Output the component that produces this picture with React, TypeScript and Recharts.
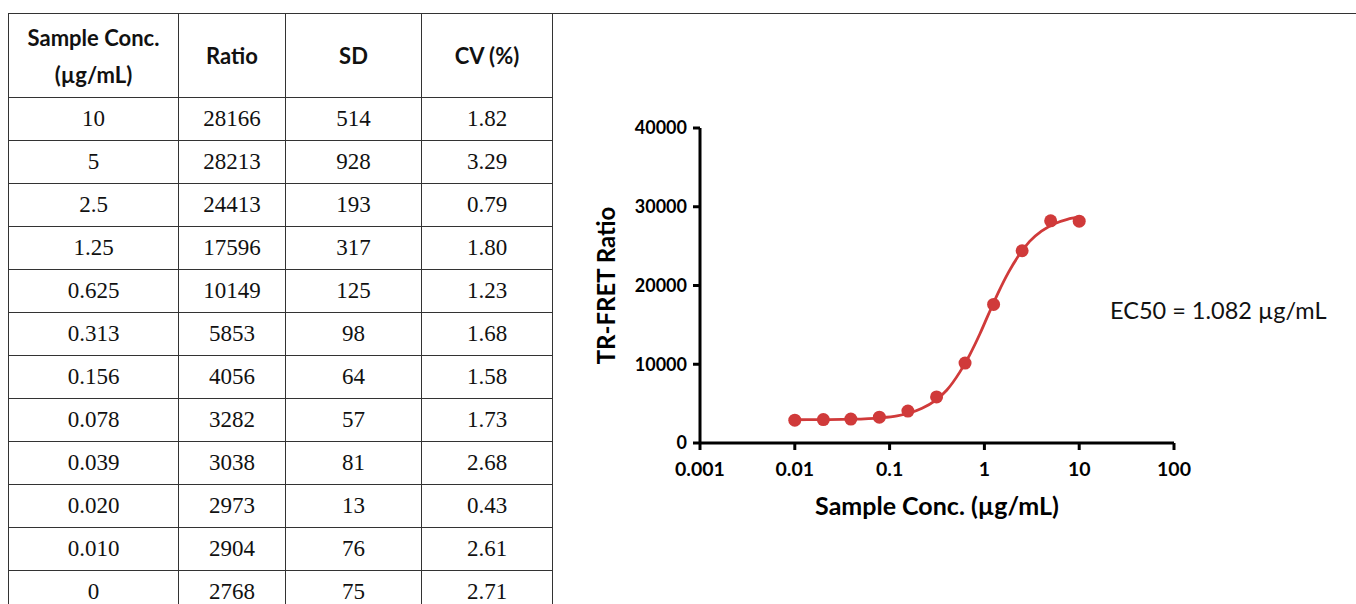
import {
    ComposedChart,
    Line,
    Scatter,
    XAxis,
    YAxis,
} from 'recharts'

// table data
const concLabels = ['10', '5', '2.5', '1.25', '0.625', '0.313', '0.156', '0.078', '0.039', '0.020', '0.010', '0']
const concValues = [10, 5, 2.5, 1.25, 0.625, 0.313, 0.156, 0.078, 0.039, 0.02, 0.01, 0]
const ratios = [28166, 28213, 24413, 17596, 10149, 5853, 4056, 3282, 3038, 2973, 2904, 2768]
const sds = [514, 928, 193, 317, 125, 98, 64, 57, 81, 13, 76, 75]
const cvs = ['1.82', '3.29', '0.79', '1.80', '1.23', '1.68', '1.58', '1.73', '2.68', '0.43', '2.61', '2.71']

// fitted curve
const curveX = [0.01, 0.02, 0.04, 0.08, 0.12, 0.16, 0.22, 0.3, 0.4, 0.55, 0.7, 0.9, 1.1, 1.4, 1.8, 2.3, 3, 4, 5.5, 7.5, 10]
const curveY = [2950, 2970, 3020, 3200, 3450, 3780, 4400, 5350, 6700, 9000, 11200, 13900, 16300, 19100, 21700, 23800, 25600, 26900, 27850, 28400, 28700]

const xTicks = [0.001, 0.01, 0.1, 1, 10, 100]
const yTicks = [0, 10000, 20000, 30000, 40000]

const RED = '#d03a3a'
const SANS = 'Lato, "Open Sans", sans-serif'

const points = concValues
    .map((c, i) => ({ conc: c, ratio: ratios[i] }))
    .filter((p) => p.conc > 0)
const curve = curveX.map((c, i) => ({ conc: c, fit: curveY[i] }))

const cellBorder = '1px solid #333'

function DataTable() {
    const th = {
        border: cellBorder,
        fontFamily: SANS,
        fontWeight: 700,
        fontSize: 22,
        lineHeight: '37px',
        padding: 0,
        textAlign: 'center' as const,
    }
    const td = {
        border: cellBorder,
        fontFamily: '"Liberation Serif", "Times New Roman", serif',
        fontSize: 23,
        padding: 0,
        textAlign: 'center' as const,
        height: 42,
    }
    return (
        <table
            style={{
                position: 'absolute',
                left: 8,
                top: 13,
                width: 544,
                borderCollapse: 'collapse',
                tableLayout: 'fixed',
                color: '#111',
            }}
        >
            <colgroup>
                <col style={{ width: 170 }} />
                <col style={{ width: 107 }} />
                <col style={{ width: 136 }} />
                <col style={{ width: 131 }} />
            </colgroup>
            <thead>
                <tr style={{ height: 84 }}>
                    <th style={th}>
                        Sample Conc.
                        <br />
                        (µg/mL)
                    </th>
                    <th style={th}>Ratio</th>
                    <th style={th}>SD</th>
                    <th style={th}>CV (%)</th>
                </tr>
            </thead>
            <tbody>
                {concLabels.map((label, i) => (
                    <tr key={i}>
                        <td style={td}>{label}</td>
                        <td style={td}>{ratios[i]}</td>
                        <td style={td}>{sds[i]}</td>
                        <td style={td}>{cvs[i]}</td>
                    </tr>
                ))}
            </tbody>
        </table>
    )
}

export default function App() {
    const yTickStyle = { fontFamily: SANS, fontWeight: 700, fontSize: 18, fill: '#000' }
    const xTickStyle = { fontFamily: SANS, fontWeight: 700, fontSize: 19.5, fill: '#000' }
    return (
        <div
            style={{
                position: 'fixed',
                left: 0,
                top: 0,
                width: 1356,
                height: 604,
                overflow: 'hidden',
                background: '#fff',
            }}
        >
            <div style={{ position: 'absolute', left: 8, top: 13, width: 1348, height: 1, background: '#333' }} />
            <DataTable />
            <div style={{ position: 'absolute', left: 560, top: 100 }}>
                <ComposedChart
                    width={796}
                    height={460}
                    margin={{ top: 28, right: 182, left: 20, bottom: 37 }}
                >
                    <XAxis
                        dataKey='conc'
                        type='number'
                        scale='log'
                        domain={[0.001, 100]}
                        ticks={xTicks}
                        allowDataOverflow
                        height={80}
                        tickSize={7}
                        tickMargin={12}
                        axisLine={{ stroke: '#000', strokeWidth: 3 }}
                        tickLine={{ stroke: '#000', strokeWidth: 3 }}
                        tick={xTickStyle}
                        tickFormatter={(v: number) => String(v)}
                        label={{
                            value: 'Sample Conc. (µg/mL)',
                            position: 'insideBottom',
                            offset: 8,
                            style: { fontFamily: SANS, fontWeight: 700, fontSize: 25, fill: '#000' },
                        }}
                    />
                    <YAxis
                        type='number'
                        domain={[0, 40000]}
                        ticks={yTicks}
                        width={120}
                        tickSize={7}
                        tickMargin={6}
                        axisLine={{ stroke: '#000', strokeWidth: 3 }}
                        tickLine={{ stroke: '#000', strokeWidth: 3 }}
                        tick={yTickStyle}
                        label={{
                            value: 'TR-FRET Ratio',
                            angle: -90,
                            position: 'insideLeft',
                            offset: 26,
                            style: {
                                fontFamily: SANS,
                                fontWeight: 700,
                                fontSize: 24,
                                fill: '#000',
                                textAnchor: 'middle',
                            },
                        }}
                    />
                    <Line
                        data={curve}
                        dataKey='fit'
                        type='monotone'
                        stroke={RED}
                        strokeWidth={2.8}
                        dot={false}
                        isAnimationActive={false}
                    />
                    <Scatter
                        data={points}
                        dataKey='ratio'
                        fill={RED}
                        isAnimationActive={false}
                        shape={(props: any) => (
                            <circle cx={props.cx} cy={props.cy} r={6.5} fill={RED} />
                        )}
                    />
                </ComposedChart>
            </div>
            <div
                style={{
                    position: 'absolute',
                    left: 1110,
                    top: 296,
                    fontFamily: SANS,
                    fontSize: 23.5,
                    color: '#111',
                    whiteSpace: 'nowrap',
                }}
            >
                EC50 = 1.082 µg/mL
            </div>
        </div>
    )
}
